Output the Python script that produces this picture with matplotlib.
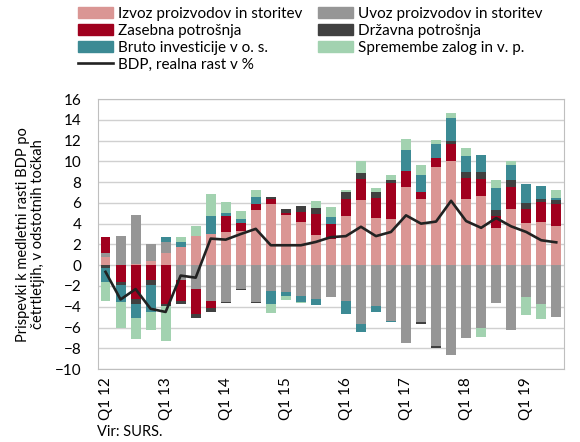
import numpy as np
import matplotlib
matplotlib.use("Agg")
import matplotlib.pyplot as plt
from matplotlib.patches import Patch
from matplotlib.lines import Line2D

plt.rcParams['font.family'] = ['Lato', 'DejaVu Sans']

# četrtletja Q1 2012 - Q3 2019
quarters = [f"Q{q} {y}" for y in range(12, 20) for q in range(1, 5)][:31]
tick_labels = ["Q1 12", "Q1 13", "Q1 14", "Q1 15", "Q1 16", "Q1 17", "Q1 18", "Q1 19"]

izvoz = [0.8, 0.0, 0.16, 0.4, 1.2, 1.8, 2.8, 3.0, 3.2, 3.26, 5.3, 5.9, 4.8, 4.16, 2.9, 2.5,
         4.7, 6.3, 4.5, 4.4, 7.5, 6.4, 9.44, 10.0, 6.4, 6.7, 3.6, 5.4, 4.1, 4.2, 3.75]
uvoz = [0.38, 2.8, 4.7, 1.66, 1.0, -1.4, -2.3, -3.4, -3.5, -2.3, -3.5, -2.5, -2.6, -3.0, -3.3, -3.1,
        -3.4, -5.7, -3.9, -5.4, -7.5, -5.5, -7.8, -8.6, -7.0, -6.0, -3.6, -6.2, -3.1, -3.7, -5.0]
zasebna = [1.54, -1.6, -3.3, -1.4, -3.7, -2.0, -2.4, -0.7, 1.5, 0.8, 0.64, 0.5, 0.2, 0.95, 2.0, 1.5,
           1.66, 2.0, 2.0, 3.5, 1.55, 0.64, 0.9, 1.66, 2.0, 1.6, 1.1, 2.15, 1.28, 1.9, 2.1]
drzavna = [-0.3, -0.3, -0.45, -0.5, -0.2, -0.35, -0.4, -0.4, -0.15, -0.1, -0.1, 0.16, 0.4, 0.55, 0.64, 0.0,
           0.64, 0.55, 0.5, 0.3, 0.0, -0.15, -0.2, 0.25, 0.55, 0.64, 0.64, 0.64, 0.6, 0.25, 0.4]
investicije = [-1.3, -1.6, -1.3, -2.6, 0.55, 0.4, 0.0, 1.7, 0.3, 0.4, 0.64, -1.2, -0.4, -0.5, -0.5, 0.64,
               -1.3, -0.7, -0.65, -0.1, 2.05, 1.6, 1.3, 2.24, 1.6, 1.66, 2.05, 1.44, 1.86, 1.28, 0.25]
zaloge = [-1.8, -2.5, -2.1, -1.7, -3.4, 0.5, 1.0, 2.2, 1.1, 0.8, 0.64, -0.9, -0.35, -0.1, 0.64, 1.0,
          0.25, 1.2, 0.4, 0.5, 1.05, 0.96, 0.4, 0.55, 0.7, -0.96, 0.8, 0.4, -1.66, -1.5, 0.7]
bdp = [-0.64, -3.3, -2.3, -4.2, -4.5, -1.0, -1.2, 2.56, 2.46, 3.0, 3.5, 1.92, 1.92, 1.92, 2.24, 2.7,
       2.8, 3.7, 2.8, 3.2, 4.8, 4.0, 4.2, 6.2, 4.25, 3.6, 4.54, 3.74, 3.2, 2.4, 2.2]

series = [
    ("Izvoz proizvodov in storitev", izvoz, "#DA9694"),
    ("Uvoz proizvodov in storitev", uvoz, "#969696"),
    ("Zasebna potrošnja", zasebna, "#A0001E"),
    ("Državna potrošnja", drzavna, "#404040"),
    ("Bruto investicije v o. s.", investicije, "#3C8A94"),
    ("Spremembe zalog in v. p.", zaloge, "#A2D2B0"),
]

fig = plt.figure(figsize=(5.8, 4.42), dpi=100)
ax = fig.add_axes([0.169, 0.165, 0.803, 0.611])

x = np.arange(len(quarters))
pos_base = np.zeros(len(x))
neg_base = np.zeros(len(x))
for name, vals, col in series:
    v = np.array(vals)
    bottom = np.where(v >= 0, pos_base, neg_base)
    ax.bar(x, v, 0.66, bottom=bottom, color=col, zorder=2)
    pos_base += np.clip(v, 0, None)
    neg_base += np.clip(v, None, 0)

ax.plot(x, bdp, color="#222222", lw=1.9, zorder=3)

ax.set_xlim(-0.5, len(x) - 0.5)
ax.set_ylim(-10, 16)
ax.set_yticks(range(-10, 17, 2))
ax.set_xticks(range(0, len(x), 4))
ax.set_xticklabels(tick_labels, rotation=90, fontsize=11)
ax.tick_params(axis='y', length=0, pad=12, labelsize=11)
ax.tick_params(axis='x', length=0, pad=6)
ax.grid(axis='y', color="#d0d0d0", lw=1, zorder=0)
for s in ax.spines.values():
    s.set_color("#bfbfbf")

fig.text(0.052, 0.47, "Prispevki k medletni rasti BDP po\nčetrtletjih, v odstotnih točkah",
         rotation=90, ha='center', va='center', fontsize=10.5, linespacing=1.1)
fig.text(0.167, 0.022, "Vir: SURS.", fontsize=10.5, va='center')

handles = [Patch(color=series[0][2], label=series[0][0]),
           Patch(color=series[2][2], label=series[2][0]),
           Patch(color=series[4][2], label=series[4][0]),
           Line2D([], [], color="#222222", lw=1.9, label="BDP, realna rast v %"),
           Patch(color=series[1][2], label=series[1][0]),
           Patch(color=series[3][2], label=series[3][0]),
           Patch(color=series[5][2], label=series[5][0])]
fig.legend(handles=handles, ncol=2, loc='upper left', bbox_to_anchor=(0.134, 0.985),
           frameon=False, fontsize=11, handlelength=2.3, handletextpad=0.35,
           labelspacing=0.2, columnspacing=1.0, borderpad=0, borderaxespad=0)

fig.savefig("out.png", dpi=100)
